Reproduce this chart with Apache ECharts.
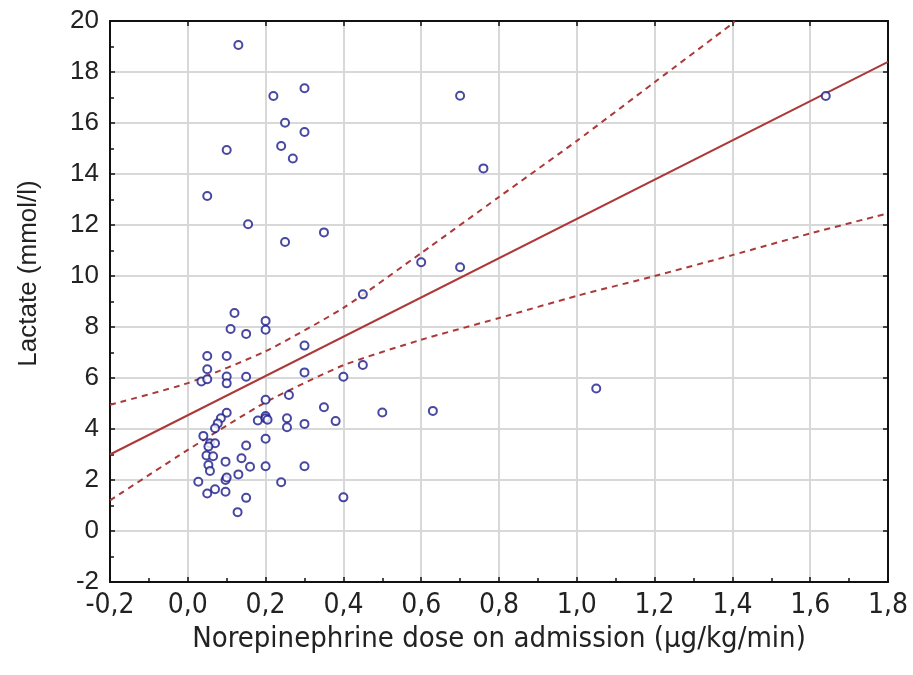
<!DOCTYPE html>
<html><head><meta charset="utf-8">
<script src="https://cdn.jsdelivr.net/npm/echarts@6/dist/echarts.min.js"></script>
<style>html,body{margin:0;padding:0;background:#fff}#c{width:913px;height:675px}</style>
</head><body><div id="c"></div>
<script>
// Scatter data: norepinephrine dose (x) vs lactate (y)
const doseX = [0.13,0.30,0.22,0.25,0.30,0.24,0.10,0.27,0.05,0.155,0.25,0.35,0.70,0.76,1.64,0.60,0.70,0.45,0.45,1.05,
  0.50,0.63,0.38,0.35,0.40,0.40,0.12,0.20,0.11,0.20,0.15,0.30,0.05,0.10,0.05,0.035,0.05,0.10,0.10,0.15,
  0.30,0.26,0.20,0.10,0.085,0.077,0.07,0.20,0.18,0.20,0.205,0.255,0.255,0.30,0.20,0.04,0.057,0.07,0.053,0.15,
  0.048,0.065,0.097,0.138,0.16,0.20,0.30,0.053,0.057,0.097,0.10,0.13,0.027,0.24,0.07,0.05,0.097,0.15,0.128];
const lactateY = [19.06,17.36,17.06,16.01,15.65,15.10,14.94,14.61,13.14,12.03,11.33,11.71,17.07,14.22,17.06,10.54,10.34,9.28,6.51,5.59,
  4.65,4.71,4.31,4.85,6.05,1.32,8.55,8.24,7.92,7.89,7.73,7.27,6.86,6.86,6.34,5.86,5.95,6.06,5.79,6.05,
  6.22,5.33,5.15,4.64,4.42,4.22,4.03,4.51,4.33,4.42,4.36,4.42,4.07,4.20,3.62,3.73,3.44,3.44,3.31,3.35,
  2.96,2.93,2.72,2.85,2.52,2.54,2.54,2.59,2.35,2.00,2.10,2.22,1.93,1.91,1.64,1.47,1.54,1.30,0.74];
// Regression line
const fitX = [-0.2, 1.8];
const fitY = [3.0, 18.4];
// 95% confidence bands
const upperX = [-0.2, 0.0, 0.2, 0.4, 0.6, 0.8, 1.0, 1.2, 1.4, 1.406];
const upperY = [4.95, 5.8, 7.05, 8.75, 10.9, 13.1, 15.3, 17.6, 19.9, 20.0];
const lowerX = [-0.2, 0.0, 0.2, 0.4, 0.6, 0.8, 1.0, 1.2, 1.4, 1.6, 1.8];
const lowerY = [1.2, 3.18, 5.05, 6.5, 7.5, 8.35, 9.22, 10.0, 10.82, 11.67, 12.46];
// Tick labels
const xTickLabels = ['-0,2','0,0','0,2','0,4','0,6','0,8','1,0','1,2','1,4','1,6','1,8'];
const yTickLabels = ['-2','0','2','4','6','8','10','12','14','16','18','20'];
const xMin = -0.2, xMax = 1.8, xStep = 0.2;
const yMin = -2, yMax = 20, yStep = 2;
const xTitle = 'Norepinephrine dose on admission (\u00b5g/kg/min)';
const yTitle = 'Lactate (mmol/l)';

const zip = (a, b) => a.map((v, i) => [v, b[i]]);
const lineCol = '#ac3838';
const axisCol = '#111';
const narrow = '"Liberation Sans Narrow","Arial Narrow","DejaVu Sans Condensed","Liberation Sans",sans-serif';
const regular = '"Liberation Sans",Arial,sans-serif';

const chart = echarts.init(document.getElementById('c'), null, {renderer: 'canvas'});
chart.setOption({
  animation: false,
  backgroundColor: '#fff',
  grid: {left: 110, right: 25, top: 21, bottom: 93, containLabel: false},
  xAxis: [{
    type: 'value', min: xMin, max: xMax, interval: xStep, position: 'bottom',
    name: xTitle, nameLocation: 'middle', nameGap: 41,
    nameTextStyle: {fontFamily: narrow, fontSize: 29, color: '#222'},
    axisLine: {show: true, onZero: false, lineStyle: {color: axisCol, width: 2}},
    axisTick: {show: true, inside: true, length: 5, lineStyle: {color: axisCol, width: 1.5}},
    minorTick: {show: true, splitNumber: 2, length: 4, lineStyle: {color: axisCol, width: 1.5}},
    splitLine: {show: true, lineStyle: {color: '#d8d8d8', width: 2}},
    axisLabel: {margin: 10, fontFamily: narrow, fontSize: 28, color: '#222', showMinLabel: true, showMaxLabel: true,
      formatter: v => xTickLabels[Math.round((v - xMin) / xStep)]}
  }, {
    type: 'value', min: xMin, max: xMax, interval: xStep, position: 'top',
    axisLine: {show: true, onZero: false, lineStyle: {color: axisCol, width: 2}},
    axisTick: {show: true, inside: true, length: 5, lineStyle: {color: axisCol, width: 1.5}},
    splitLine: {show: false}, axisLabel: {show: false}
  }],
  yAxis: [{
    type: 'value', min: yMin, max: yMax, interval: yStep, position: 'left',
    name: yTitle, nameLocation: 'middle', nameGap: 68,
    nameTextStyle: {fontFamily: regular, fontSize: 26, color: '#222', padding: [0, 0, 0, 56]},
    axisLine: {show: true, onZero: false, lineStyle: {color: axisCol, width: 2}},
    axisTick: {show: true, inside: true, length: 5, lineStyle: {color: axisCol, width: 1.5}},
    minorTick: {show: true, splitNumber: 2, length: 4, lineStyle: {color: axisCol, width: 1.5}},
    splitLine: {show: true, lineStyle: {color: '#d8d8d8', width: 2}},
    axisLabel: {margin: 11, fontFamily: regular, fontSize: 26, color: '#222', showMinLabel: true, showMaxLabel: true,
      formatter: v => yTickLabels[Math.round((v - yMin) / yStep)]}
  }, {
    type: 'value', min: yMin, max: yMax, interval: yStep, position: 'right',
    axisLine: {show: true, onZero: false, lineStyle: {color: axisCol, width: 2}},
    axisTick: {show: true, inside: true, length: 5, lineStyle: {color: axisCol, width: 1.5}},
    splitLine: {show: false}, axisLabel: {show: false}
  }],
  series: [{
    type: 'line', data: zip(lowerX, lowerY), showSymbol: false, smooth: 0.2, clip: true, z: 3,
    lineStyle: {color: lineCol, width: 2, type: [6, 5]}
  }, {
    type: 'line', data: zip(upperX, upperY), showSymbol: false, smooth: 0.2, clip: true, z: 3,
    lineStyle: {color: lineCol, width: 2, type: [6, 5]}
  }, {
    type: 'line', data: zip(fitX, fitY), showSymbol: false, clip: true, z: 3,
    lineStyle: {color: lineCol, width: 2}
  }, {
    type: 'scatter', data: zip(doseX, lactateY), symbol: 'emptyCircle', symbolSize: 8, z: 4,
    itemStyle: {color: '#1a1a8a', borderWidth: 2}
  }]
});
</script>
</body></html>
